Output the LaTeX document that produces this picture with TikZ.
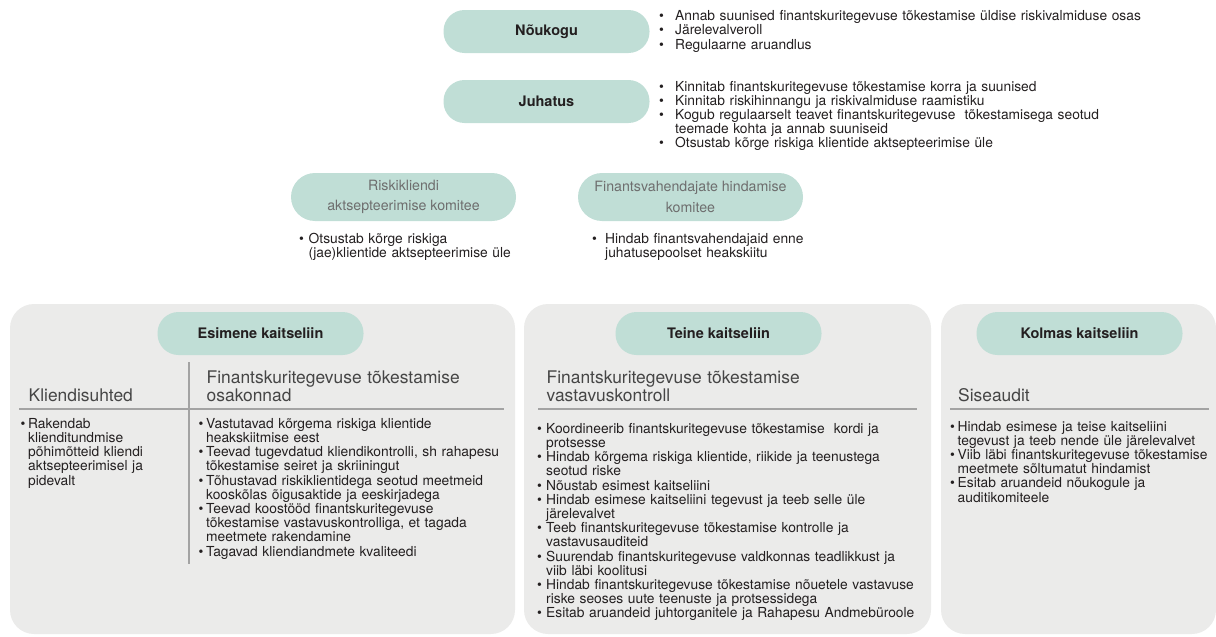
\documentclass[tikz,border=0pt]{standalone}
\usepackage{fontspec}
\setmainfont{TeX Gyre Heros}
\newlength\bw
\newcommand{\bul}{\makebox[\bw][l]{\textbullet}}
\newcommand{\ind}{\hspace*{\bw}}
\definecolor{pillc}{HTML}{C0DED6}
\definecolor{panelc}{HTML}{EBEBEA}
\definecolor{rulec}{HTML}{A3A3A3}
\definecolor{txt}{HTML}{231F20}
\definecolor{gtxt}{HTML}{6E6E6E}
\definecolor{htxt}{HTML}{454545}
\tikzset{
  pill/.style={fill=pillc, rounded corners=21pt, minimum width=206pt, minimum height=43pt,
    inner sep=0pt, text=txt, font=\bfseries\fontsize{14.5}{16}\selectfont},
  cpill/.style={fill=pillc, rounded corners=24pt, minimum width=225pt, minimum height=48pt,
    inner sep=0pt, align=center, text=gtxt, font=\fontsize{14.2}{20.5}\selectfont},
  panel/.style={fill=panelc, rounded corners=24pt},
  blist/.style={anchor=base west, inner sep=0pt, text width=520pt, align=left, text=txt,
    font=\fontsize{13.8}{14.2}\selectfont, execute at begin node={\setlength{\bw}{#1}}},
  blist/.default=8pt,
  head/.style={anchor=base west, inner sep=0pt, text width=400pt, align=left, text=htxt,
    font=\fontsize{17.4}{18.4}\selectfont},
  rulel/.style={draw=rulec, line width=1.3pt},
}
\begin{document}
\begin{tikzpicture}[x=1pt,y=-1pt]
\useasboundingbox (0,0) rectangle (1216,637);
% top
\node[pill] (nk) at (546.5,31.5) {Nõukogu};
\node[pill] (jh) at (546.5,101.5) {Juhatus};
\node[blist=16pt] (nkl) at (659,20.7) {\bul Annab suunised finantskuritegevuse tõkestamise üldise riskivalmiduse osas\\
\bul Järelevalveroll\\
\bul Regulaarne aruandlus};
\node[blist=16pt] (jhl) at (659,91) {\bul Kinnitab finantskuritegevuse tõkestamise korra ja suunised\\
\bul Kinnitab riskihinnangu ja riskivalmiduse raamistiku\\
\bul Kogub regulaarselt teavet finantskuritegevuse\ \ tõkestamisega seotud\\
\ind teemade kohta ja annab suuniseid\\
\bul Otsustab kõrge riskiga klientide aktsepteerimise üle};
% committees
\node[cpill] (rk) at (403.5,197) {Riskikliendi\\aktsepteerimise komitee};
\node[cpill] (fv) at (690.5,197) {Finantsvahendajate hindamise\\komitee};
\node[blist=9.5pt] (rkl) at (299,243.5) {\bul Otsustab kõrge riskiga\\
\ind (jae)klientide aktsepteerimise üle};
\node[blist=13pt] (fvl) at (592,243.5) {\bul Hindab finantsvahendajaid enne\\
\ind juhatusepoolset heakskiitu};
% panels
\path[panel] (10,304) rectangle (515,634);
\path[panel] (524,304) rectangle (931,634);
\path[panel] (941,304) rectangle (1216,634);
\node[pill] (p1) at (260.5,333.5) {Esimene kaitseliin};
\node[pill] (p2) at (718.5,333.5) {Teine kaitseliin};
\node[pill] (p3) at (1079.5,333.5) {Kolmas kaitseliin};
% panel 1
\draw[rulel] (19,409) -- (504,409);
\draw[rulel] (189,362) -- (189,564);
\node[head] (h1a) at (28.5,401.7) {Kliendisuhted};
\node[head] (h1b) at (206.5,383.3) {Finantskuritegevuse tõkestamise\\osakonnad};
\node[blist=7.5pt] (l1a) at (20.5,428.3) {\bul Rakendab\\
\ind klienditundmise\\
\ind põhimõtteid kliendi\\
\ind aktsepteerimisel ja\\
\ind pidevalt};
\node[blist=7.5pt] (l1b) at (198.5,428.3) {\bul Vastutavad kõrgema riskiga klientide\\
\ind heakskiitmise eest\\
\bul Teevad tugevdatud kliendikontrolli, sh rahapesu\\
\ind tõkestamise seiret ja skriiningut\\
\bul Tõhustavad riskiklientidega seotud meetmeid\\
\ind kooskõlas õigusaktide ja eeskirjadega\\
\bul Teevad koostööd finantskuritegevuse\\
\ind tõkestamise vastavuskontrolliga, et tagada\\
\ind meetmete rakendamine\\
\bul Tagavad kliendiandmete kvaliteedi};
% panel 2
\draw[rulel] (538,409) -- (917,409);
\node[head] (h2) at (546.5,383.3) {Finantskuritegevuse tõkestamise\\vastavuskontroll};
\node[blist=9pt] (l2) at (537,433.3) {\bul Koordineerib finantskuritegevuse tõkestamise\ \ kordi ja\\
\ind protsesse\\
\bul Hindab kõrgema riskiga klientide, riikide ja teenustega\\
\ind seotud riske\\
\bul Nõustab esimest kaitseliini\\
\bul Hindab esimese kaitseliini tegevust ja teeb selle üle\\
\ind järelevalvet\\
\bul Teeb finantskuritegevuse tõkestamise kontrolle ja\\
\ind vastavusauditeid\\
\bul Suurendab finantskuritegevuse valdkonnas teadlikkust ja\\
\ind viib läbi koolitusi\\
\bul Hindab finantskuritegevuse tõkestamise nõuetele vastavuse\\
\ind riske seoses uute teenuste ja protsessidega\\
\bul Esitab aruandeid juhtorganitele ja Rahapesu Andmebüroole};
% panel 3
\draw[rulel] (950,409) -- (1209,409);
\node[head] (h3) at (958,401) {Siseaudit};
\node[blist=7.5pt] (l3) at (950,431) {\bul Hindab esimese ja teise kaitseliini\\
\ind tegevust ja teeb nende üle järelevalvet\\
\bul Viib läbi finantskuritegevuse tõkestamise\\
\ind meetmete sõltumatut hindamist\\
\bul Esitab aruandeid nõukogule ja\\
\ind auditikomiteele};
\end{tikzpicture}
\end{document}
